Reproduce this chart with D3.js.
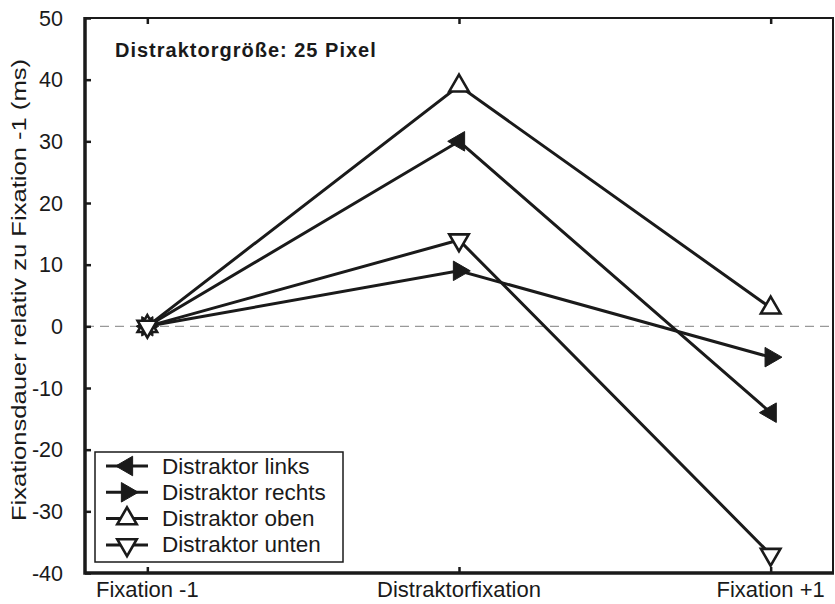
<!DOCTYPE html>
<html>
<head>
<meta charset="utf-8">
<script src="https://cdn.jsdelivr.net/npm/d3@7"></script>
<style>
  html, body { margin: 0; padding: 0; background: #fff; }
  svg { display: block; font-family: "Liberation Sans", Arial, sans-serif; }
</style>
</head>
<body>
<svg id="chart" width="835" height="604"></svg>
<script>
// Fixation phases on the x axis
const phases = ["Fixation -1", "Distraktorfixation", "Fixation +1"];

// Fixation duration relative to fixation -1 (ms), one array per distractor position
const linksValues  = [0, 30, -14];
const rechtsValues = [0, 9, -5];
const obenValues   = [0, 39, 3];
const untenValues  = [0, 14, -37];

const seriesNames = ["Distraktor links", "Distraktor rechts", "Distraktor oben", "Distraktor unten"];
const yTicks = [50, 40, 30, 20, 10, 0, -10, -20, -30, -40];

const titleText = "Distraktorgröße: 25 Pixel";
const yLabel = "Fixationsdauer relativ zu Fixation -1 (ms)";

// marker style per series: rotation of the triangle and whether it is filled
const markerStyles = [
  { rotate: -90, filled: true },
  { rotate: 90, filled: true },
  { rotate: 0, filled: false },
  { rotate: 180, filled: false }
];

const series = [linksValues, rechtsValues, obenValues, untenValues].map((vals, i) => ({
  name: seriesNames[i],
  style: markerStyles[i],
  points: vals.map((v, j) => ({ phase: phases[j], value: v }))
}));

const svg = d3.select("#chart");
const plotL = 85, plotR = 833, plotT = 18, plotB = 573;
const ink = "#1a1a1a";

const x = d3.scalePoint().domain(phases).range([plotL, plotR]).padding(0.2);
const y = d3.scaleLinear().domain([-40, 50]).range([plotB, plotT]);

// zero reference line
svg.append("line")
  .attr("x1", plotL).attr("x2", plotR)
  .attr("y1", y(0)).attr("y2", y(0))
  .attr("stroke", "#999").attr("stroke-width", 1.2)
  .attr("stroke-dasharray", "9,6");

// frame: thin top and right edges
svg.append("path")
  .attr("d", `M${plotL},${plotT}H${plotR}V${plotB}`)
  .attr("fill", "none").attr("stroke", ink).attr("stroke-width", 2);

// left axis with inward ticks
const yAxis = svg.append("g")
  .attr("transform", `translate(${plotL},0)`)
  .call(d3.axisRight(y).tickValues(yTicks).tickSize(6).tickFormat(""));
yAxis.select(".domain").remove();
yAxis.selectAll(".tick line").attr("stroke", ink).attr("stroke-width", 2.5);

svg.selectAll(".ylab")
  .data(yTicks)
  .join("text")
  .attr("class", "ylab")
  .attr("x", plotL - 22)
  .attr("y", d => y(d))
  .attr("dy", "0.36em")
  .attr("text-anchor", "end")
  .attr("font-size", 21.5)
  .attr("fill", ink)
  .text(d => d);

// bottom axis with upward ticks
const xAxis = svg.append("g")
  .attr("transform", `translate(0,${plotB})`)
  .call(d3.axisTop(x).tickSize(6).tickFormat(""));
xAxis.select(".domain").remove();
xAxis.selectAll(".tick line").attr("stroke", ink).attr("stroke-width", 2.5);

svg.selectAll(".xlab")
  .data(phases)
  .join("text")
  .attr("class", "xlab")
  .attr("x", d => x(d))
  .attr("y", plotB + 24)
  .attr("text-anchor", "middle")
  .attr("font-size", 22)
  .attr("fill", ink)
  .text(d => d);

// top ticks hanging down
const xTop = svg.append("g")
  .attr("transform", `translate(0,${plotT})`)
  .call(d3.axisBottom(x).tickSize(6).tickFormat(""));
xTop.select(".domain").remove();
xTop.selectAll(".tick line").attr("stroke", ink).attr("stroke-width", 2.5);

// thick left and bottom axis lines
svg.append("path")
  .attr("d", `M${plotL},${plotT - 1}V${plotB}H${plotR + 1}`)
  .attr("fill", "none").attr("stroke", ink).attr("stroke-width", 3.5);

// y axis title, stretched along the axis
svg.append("text")
  .attr("transform", `translate(26,290) rotate(-90)`)
  .attr("text-anchor", "middle")
  .attr("font-size", 20)
  .attr("textLength", 462)
  .attr("lengthAdjust", "spacingAndGlyphs")
  .attr("fill", ink)
  .text(yLabel);

// chart title
svg.append("text")
  .attr("x", 115).attr("y", 57)
  .attr("font-size", 20)
  .attr("font-weight", "bold")
  .attr("letter-spacing", 1)
  .attr("fill", ink)
  .text(titleText);

const line = d3.line().x(d => x(d.phase)).y(d => y(d.value));
const tri = d3.symbol().type(d3.symbolTriangle).size(165);

function drawMarker(sel, style, cx, cy) {
  sel.append("path")
    .attr("d", tri())
    .attr("transform", `translate(${cx},${cy}) rotate(${style.rotate})`)
    .attr("fill", style.filled ? ink : "#fff")
    .attr("stroke", ink)
    .attr("stroke-width", style.filled ? 1 : 2.6)
    .attr("stroke-linejoin", "miter");
}

// series lines
const gLines = svg.append("g");
series.forEach(s => {
  gLines.append("path")
    .datum(s.points)
    .attr("d", line)
    .attr("fill", "none")
    .attr("stroke", ink)
    .attr("stroke-width", 3);
});

// markers
const gMarks = svg.append("g");
series.forEach(s => {
  s.points.forEach(p => drawMarker(gMarks, s.style, x(p.phase), y(p.value)));
});

// legend
const lg = svg.append("g");
lg.append("rect")
  .attr("x", 95).attr("y", 452)
  .attr("width", 248).attr("height", 110)
  .attr("fill", "#fff")
  .attr("stroke", ink).attr("stroke-width", 1.5);

series.forEach((s, i) => {
  const cy = 466 + i * 26.3;
  lg.append("line")
    .attr("x1", 106).attr("x2", 148)
    .attr("y1", cy).attr("y2", cy)
    .attr("stroke", ink).attr("stroke-width", 3);
  drawMarker(lg, s.style, 127, cy);
  lg.append("text")
    .attr("x", 162).attr("y", cy + 7.5)
    .attr("font-size", 22.5)
    .attr("fill", ink)
    .text(s.name);
});
</script>
</body>
</html>
